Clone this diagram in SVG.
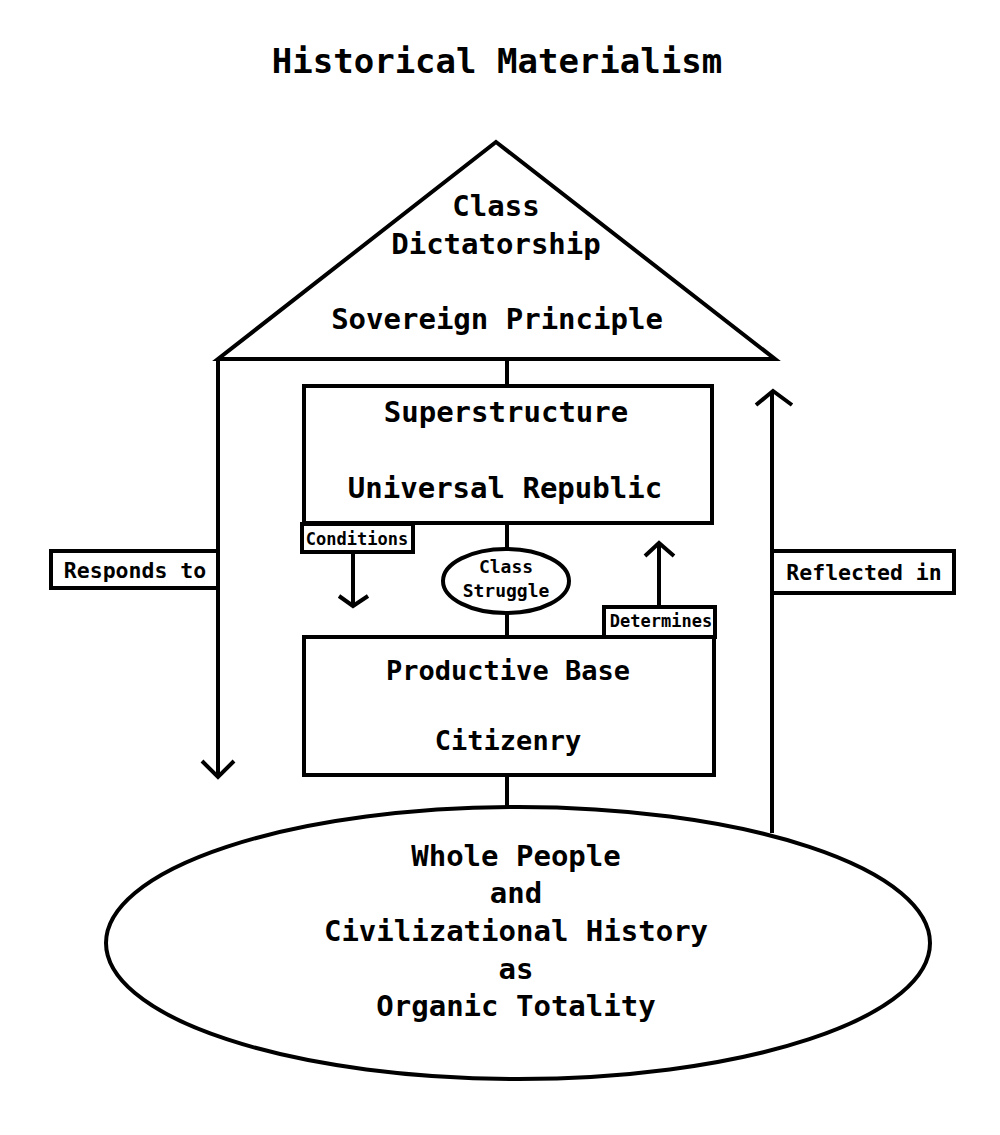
<svg xmlns="http://www.w3.org/2000/svg" width="1000" height="1135" viewBox="0 0 1000 1135">
<style>
  .s{fill:#fff;stroke:#000;stroke-width:4}
  .l{fill:none;stroke:#000;stroke-width:4}
  text{font-family:"DejaVu Sans Mono","Liberation Mono",monospace;font-weight:bold;fill:#000;text-anchor:middle}
</style>
<rect width="1000" height="1135" fill="#fff"/>
<text x="497" y="73" font-size="34">Historical Materialism</text>
<g id="connectors">
  <line class="l" x1="507" y1="359" x2="507" y2="386"/>
  <line class="l" x1="507" y1="523" x2="507" y2="549"/>
  <line class="l" x1="507" y1="613" x2="507" y2="637"/>
  <line class="l" x1="507" y1="775" x2="507" y2="807"/>
  <line class="l" x1="218" y1="359" x2="218" y2="777"/>
  <polyline class="l" points="202,761 218,777 234,761"/>
  <line class="l" x1="772" y1="833" x2="772" y2="392"/>
  <polyline class="l" points="756,405 773,391 792,405"/>
  <line class="l" x1="353" y1="552" x2="353" y2="606"/>
  <polyline class="l" points="339,596 353,606 368,596"/>
  <line class="l" x1="659" y1="607" x2="659" y2="543"/>
  <polyline class="l" points="645,556 659,543 674,556"/>
</g>
<g id="roof">
  <polygon class="s" points="496,142 775,359 218,359"/>
  <text x="496" y="216" font-size="29">Class</text>
  <text x="496" y="254" font-size="29">Dictatorship</text>
  <text x="497" y="329" font-size="29">Sovereign Principle</text>
</g>
<g id="superstructure">
  <rect class="s" x="304" y="386" width="408" height="137"/>
  <text x="506" y="422" font-size="29">Superstructure</text>
  <text x="505" y="498" font-size="29">Universal Republic</text>
</g>
<g id="classStruggle">
  <ellipse class="s" cx="506" cy="581" rx="63" ry="32"/>
  <text x="506" y="573" font-size="18">Class</text>
  <text x="506" y="597" font-size="18">Struggle</text>
</g>
<g id="productiveBase">
  <rect class="s" x="304" y="637" width="410" height="138"/>
  <text x="508" y="680" font-size="27">Productive Base</text>
  <text x="508" y="750" font-size="27">Citizenry</text>
</g>
<g id="whole">
  <ellipse class="s" cx="518" cy="943" rx="412" ry="136"/>
  <text x="516" y="866" font-size="29">Whole People</text>
  <text x="516" y="903" font-size="29">and</text>
  <text x="516" y="941" font-size="29">Civilizational History</text>
  <text x="516" y="979" font-size="29">as</text>
  <text x="516" y="1016" font-size="29">Organic Totality</text>
</g>
<g id="conditions">
  <rect class="s" x="302" y="524" width="111" height="28"/>
  <text x="357" y="545" font-size="17">Conditions</text>
</g>
<g id="determines">
  <rect class="s" x="604" y="607" width="111" height="30"/>
  <text x="661" y="627" font-size="17">Determines</text>
</g>
<g id="respondsTo">
  <rect class="s" x="51" y="551" width="167" height="37"/>
  <text x="135" y="578" font-size="21.5">Responds to</text>
</g>
<g id="reflectedIn">
  <rect class="s" x="772" y="551" width="182" height="42"/>
  <text x="864" y="580" font-size="21.5">Reflected in</text>
</g>
</svg>
